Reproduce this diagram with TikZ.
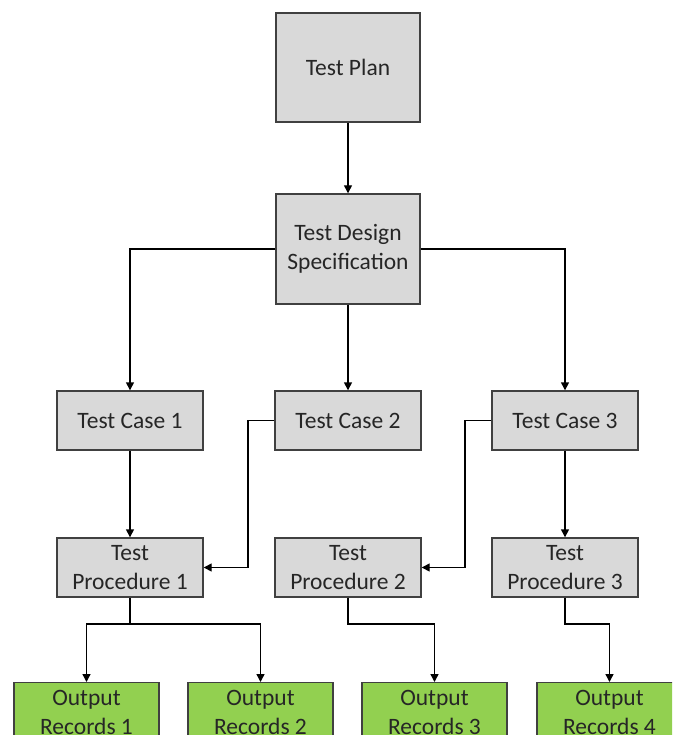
\documentclass[tikz,border=0pt]{standalone}
\usepackage{fontspec}
\setmainfont{Carlito}
\usetikzlibrary{arrows.meta}
\definecolor{boxgray}{HTML}{D9D9D9}
\definecolor{boxgreen}{HTML}{92D050}
\definecolor{edgegray}{HTML}{404040}
\begin{document}
\begin{tikzpicture}[x=1pt,y=-1pt,
  graybox/.style={draw=edgegray,line width=1.4pt,fill=boxgray,minimum width=144pt,align=center,inner sep=0pt,font=\fontsize{23.5}{29}\selectfont,text=black!85},
  greenbox/.style={draw=edgegray,line width=1.4pt,fill=boxgreen,minimum width=145pt,minimum height=60pt,align=center,inner sep=0pt,font=\fontsize{23.5}{29}\selectfont,text=black!85},
  conn/.style={line width=1.4pt,-{Triangle[length=8pt,width=8pt]}}]
\useasboundingbox (0,0) rectangle (672,735);
\clip (0,0) rectangle (672,735);
\node[graybox,minimum height=109pt] (plan) at (348,67.5) {Test Plan};
\node[graybox,minimum height=110pt] (tds) at (348,249) {Test Design\\Specification};
\node[graybox,minimum width=146pt,minimum height=59pt] (tc1) at (130,420.5) {Test Case 1};
\node[graybox,minimum width=146pt,minimum height=59pt] (tc2) at (348,420.5) {Test Case 2};
\node[graybox,minimum width=146pt,minimum height=59pt] (tc3) at (565,420.5) {Test Case 3};
\node[graybox,minimum width=146pt,minimum height=59pt] (tp1) at (130,567.5) {Test\\Procedure 1};
\node[graybox,minimum width=146pt,minimum height=59pt] (tp2) at (348,567.5) {Test\\Procedure 2};
\node[graybox,minimum width=146pt,minimum height=59pt] (tp3) at (565,567.5) {Test\\Procedure 3};
\node[greenbox,anchor=north] (or1) at (86.5,682) {Output\\Records 1};
\node[greenbox,anchor=north] (or2) at (260.5,682) {Output\\Records 2};
\node[greenbox,anchor=north] (or3) at (434.5,682) {Output\\Records 3};
\node[greenbox,anchor=north] (or4) at (609.5,682) {Output\\Records 4};
\draw[conn] (plan) -- (tds);
\draw[conn] (tds.west) -| (tc1.north);
\draw[conn] (tds) -- (tc2);
\draw[conn] (tds.east) -| (tc3.north);
\draw[conn] (tc1) -- (tp1);
\draw[conn] (tc3) -- (tp3);
\coordinate (e2) at (248,420.5);
\coordinate (e3) at (465,420.5);
\draw[conn] (tc2.west) -- (e2) |- (tp1.east);
\draw[conn] (tc3.west) -- (e3) |- (tp2.east);
\coordinate (b1) at (130,624);
\coordinate (b2) at (348,624);
\coordinate (b3) at (565,624);
\draw[line width=1.4pt] (tp1.south) -- (b1);
\draw[conn] (b1) -| (or1.north);
\draw[conn] (b1) -| (or2.north);
\draw[conn] (tp2.south) -- (b2) -| (or3.north);
\draw[conn] (tp3.south) -- (b3) -| (or4.north);
\end{tikzpicture}
\end{document}
